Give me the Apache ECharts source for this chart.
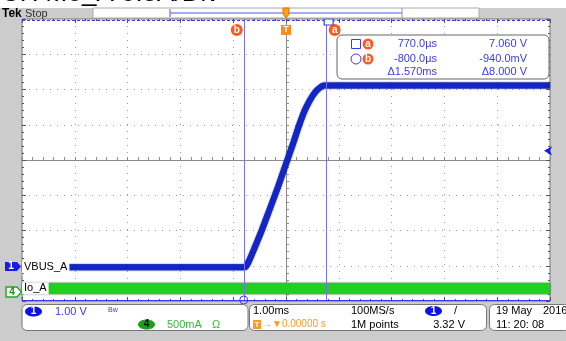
<!DOCTYPE html>
<html><head><meta charset="utf-8">
<script src="https://cdn.jsdelivr.net/npm/echarts@6/dist/echarts.min.js"></script>
<style>
html,body{margin:0;padding:0;}
body{background:linear-gradient(#ffffff 0,#ffffff 8px,#cccccc 8px,#cccccc 100%);width:566px;height:341px;overflow:hidden}
#c{width:566px;height:341px}
</style>
</head><body><div id="c"></div>
<script>
// ---- data ----
const vbusTimes = [-5, -0.78, -0.70, -0.60, -0.45, -0.30, -0.15, 0.0, 0.15, 0.25, 0.35, 0.45, 0.55, 0.65, 0.72, 5];
const vbusVolts = [0.02, 0.02, 0.20, 0.55, 1.10, 1.70, 2.30, 2.95, 3.60, 4.05, 4.45, 4.75, 4.98, 5.12, 5.17, 5.17];
const ioTimes = [-5, 5];
const ioAmps = [0.05, 0.05];
const cursorNames = ['a', 'b'];
const cursorTimes = [0.77, -0.80];
const cursorVolts = [7.06, -0.94];
const readTimes = ['770.0µs', '-800.0µs', 'Δ1.570ms'];
const readVolts = ['7.060 V', '-940.0mV', 'Δ8.000 V'];
const triggerLevel = 3.32;
const voltRange = [-0.94, 7.06];
const ampRange = [-0.128, 3.872];
const timeRange = [-5, 5];
const divRange = [-4, 4];

const F = '"Liberation Sans", Arial, sans-serif';
const ORANGE = '#ff5a1e';
const TB = '#3a3aee';
const GRID = '#8c8c8c';

const chart = echarts.init(document.getElementById('c'), null, {renderer: 'canvas'});

function edgeAxis(pos, isX) {
  return {
    type: 'value', position: pos, min: isX ? timeRange[0] : divRange[0], max: isX ? timeRange[1] : divRange[1], interval: 1,
    axisLine: {show: false, onZero: false},
    axisTick: {show: true, inside: true, length: 4, lineStyle: {color: '#555'}},
    minorTick: {show: true, splitNumber: 5, length: 2, lineStyle: {color: '#555'}},
    splitLine: {show: false}, axisLabel: {show: false}
  };
}

const vbusData = vbusTimes.map((t, i) => [t, vbusVolts[i]]);
const ioData = ioTimes.map((t, i) => [t, ioAmps[i]]);

const option = {
  animation: false,
  grid: {left: 22, top: 19, width: 528, height: 282, show: true, backgroundColor: '#ffffff', borderColor: '#777', borderWidth: 1},
  xAxis: [
    {type: 'value', min: timeRange[0], max: timeRange[1], interval: 1,
     axisLine: {show: true, onZero: true, onZeroAxisIndex: 0, lineStyle: {color: GRID, width: 1}},
     axisTick: {show: true, inside: true, length: 3, lineStyle: {color: GRID}},
     minorTick: {show: true, splitNumber: 5, length: 3, lineStyle: {color: GRID}},
     splitLine: {show: true, lineStyle: {color: '#999', type: [1, 6], width: 1}},
     axisLabel: {show: false}},
    edgeAxis('bottom', true),
    edgeAxis('top', true)
  ],
  yAxis: [
    {type: 'value', min: divRange[0], max: divRange[1], interval: 1,
     axisLine: {show: true, onZero: true, onZeroAxisIndex: 0, lineStyle: {color: GRID, width: 1}},
     axisTick: {show: true, inside: true, length: 3, lineStyle: {color: GRID}},
     minorTick: {show: true, splitNumber: 5, length: 3, lineStyle: {color: GRID}},
     splitLine: {show: true, lineStyle: {color: '#999', type: [1, 6], width: 1}},
     axisLabel: {show: false}},
    edgeAxis('left', false),
    edgeAxis('right', false),
    {type: 'value', min: voltRange[0], max: voltRange[1], show: false, axisLine: {onZero: false}},
    {type: 'value', min: ampRange[0], max: ampRange[1], show: false, axisLine: {onZero: false}}
  ],
  series: [
    {
      name: 'Io_A', type: 'line', xAxisIndex: 0, yAxisIndex: 4, data: ioData, symbol: 'none', z: 3,
      lineStyle: {color: '#1fd01f', width: 11, shadowColor: '#0b6e0b', shadowBlur: 2},
      markPoint: {
        symbol: 'rect', symbolSize: 0, silent: true,
        data: [{coord: [timeRange[0], ioAmps[0]], label: {show: true, position: 'right', distance: 0, formatter: 'Io_A', color: '#000', fontFamily: F, fontSize: 11, backgroundColor: '#fff', padding: [1, 2, 0, 2]}}]
      }
    },
    {
      name: 'VBUS_A', type: 'line', xAxisIndex: 0, yAxisIndex: 3, data: vbusData, symbol: 'none', smooth: 0.25, z: 4,
      lineStyle: {color: '#1226c6', width: 6, shadowColor: '#0a0a70', shadowBlur: 1.5},
      markLine: {
        silent: true, symbol: 'none', label: {show: false}, animation: false,
        data: [
          {xAxis: cursorTimes[0], lineStyle: {color: '#7272ff', width: 1, type: 'solid'}},
          {xAxis: cursorTimes[1], lineStyle: {color: '#7272ff', width: 1, type: 'solid'}},
          {yAxis: cursorVolts[0] - 0.03, lineStyle: {color: '#3a3aee', width: 1, type: [3, 2]}},
          {yAxis: cursorVolts[1] + 0.03, lineStyle: {color: '#3a3aee', width: 1, type: 'solid'}}
        ]
      },
      markPoint: {
        silent: true,
        data: [
          {coord: [cursorTimes[1], 6.75], symbol: 'circle', symbolSize: 12, symbolOffset: [-7, 0], itemStyle: {color: ORANGE},
           label: {show: true, formatter: cursorNames[1], color: '#fff', fontWeight: 'bold', fontSize: 10, fontFamily: F}},
          {coord: [cursorTimes[0], 6.75], symbol: 'circle', symbolSize: 12, symbolOffset: [8, 0], itemStyle: {color: ORANGE},
           label: {show: true, formatter: cursorNames[0], color: '#fff', fontWeight: 'bold', fontSize: 10, fontFamily: F}},
          {coord: [0, 6.75], symbol: 'rect', symbolSize: [10, 10], itemStyle: {color: '#ff8c1a'},
           label: {show: true, formatter: 'T', color: '#fff', fontWeight: 'bold', fontSize: 9, fontFamily: F}},
          {coord: [cursorTimes[0], cursorVolts[0]], symbol: 'rect', symbolSize: [9, 6], symbolOffset: [2, 3], itemStyle: {color: '#fff', borderColor: '#3a3aee', borderWidth: 1}, label: {show: false}},
          {coord: [cursorTimes[1], cursorVolts[1]], symbol: 'circle', symbolSize: 8, symbolOffset: [0, -1], itemStyle: {color: 'rgba(0,0,0,0)', borderColor: '#3a3aee', borderWidth: 1}, label: {show: false}},
          {coord: [timeRange[1], triggerLevel], symbol: 'arrow', symbolSize: [7, 8], symbolRotate: 90, symbolOffset: [-6, 0], itemStyle: {color: '#1a1aee'}, label: {show: false}},
          {coord: [timeRange[0], vbusVolts[0]], symbol: 'rect', symbolSize: 0,
           label: {show: true, position: 'right', distance: 0, formatter: 'VBUS_A', color: '#000', fontFamily: F, fontSize: 11, backgroundColor: '#fff', padding: [1, 2, 0, 2]}}
        ]
      }
    }
  ],
  graphic: []
};
chart.setOption(option);

// decorations (screen furniture)
const g = [];
function txt(x, y, s, o) {
  g.push(Object.assign({type: 'text', x: x, y: y, z: 100, style: Object.assign({text: s, fill: '#000', font: '11px ' + F, textVerticalAlign: 'middle'}, o || {})}));
}
function rect(x, y, w, h, st, r) {
  g.push({type: 'rect', z: 90, shape: {x: x, y: y, width: w, height: h, r: r || 0}, style: st});
}
// title (cut off at top)
txt(1, -6, 'CH4:Io_A 0.5A/Div', {font: '26px ' + F, fill: '#000'});
// top bar
txt(2, 14, 'Tek', {font: 'bold 12px ' + F});
txt(25, 14, 'Stop', {font: '11px ' + F, fill: '#333'});
rect(93, 8, 386, 10, {fill: '#fff', stroke: '#aaa', lineWidth: 1});
g.push({type: 'line', z: 95, shape: {x1: 170, y1: 13, x2: 402, y2: 13}, style: {stroke: '#5555ee', lineWidth: 1}});
g.push({type: 'line', z: 95, shape: {x1: 170, y1: 9, x2: 170, y2: 17}, style: {stroke: '#5555ee', lineWidth: 1}});
g.push({type: 'line', z: 95, shape: {x1: 402, y1: 8, x2: 402, y2: 18}, style: {stroke: '#999', lineWidth: 1}});
g.push({type: 'polygon', z: 96, shape: {points: [[283, 8], [289, 8], [289, 14], [286, 18], [283, 14]]}, style: {fill: '#ffa21a', stroke: '#e07000'}});
// readout box
rect(337, 35, 212, 44, {fill: '#fff', stroke: '#666', lineWidth: 1}, 5);
rect(351.5, 39.5, 9, 9, {fill: 'none', stroke: TB, lineWidth: 1});
g.push({type: 'circle', z: 95, shape: {cx: 356, cy: 59, r: 5}, style: {fill: 'none', stroke: TB, lineWidth: 1}});
[[368, 44, 'a'], [368, 59, 'b']].forEach(p => {
  g.push({type: 'circle', z: 95, shape: {cx: p[0], cy: p[1], r: 5.5}, style: {fill: ORANGE}});
  txt(p[0], p[1], p[2], {fill: '#fff', font: 'bold 10px ' + F, textAlign: 'center'});
});
[44, 59, 72].forEach((y, i) => {
  txt(437, y, readTimes[i], {fill: TB, textAlign: 'right'});
  txt(527, y, readVolts[i], {fill: TB, textAlign: 'right'});
});
// left channel markers
g.push({type: 'polygon', z: 95, shape: {points: [[5, 262], [17, 262], [21, 266.5], [17, 271], [5, 271]]}, style: {fill: '#1a1aee'}});
txt(11, 266.5, '1', {fill: '#fff', font: 'bold 10px ' + F, textAlign: 'center'});
g.push({type: 'polygon', z: 95, shape: {points: [[6, 287], [17, 287], [21.5, 292], [17, 297], [6, 297]]}, style: {fill: '#fff', stroke: '#22aa22', lineWidth: 1.5}});
txt(12, 292, '4', {fill: '#119911', font: 'bold 10px ' + F, textAlign: 'center'});
// bottom boxes
rect(22, 304.5, 226, 26, {fill: '#fff', stroke: '#777', lineWidth: 1}, 5);
rect(249.5, 304.5, 237, 26, {fill: '#fff', stroke: '#777', lineWidth: 1}, 5);
rect(489.5, 304.5, 80, 26, {fill: '#fff', stroke: '#777', lineWidth: 1}, 5);
g.push({type: 'ellipse', z: 95, shape: {cx: 33.5, cy: 311.5, rx: 8.5, ry: 5}, style: {fill: '#0a14e6'}});
txt(33.5, 311.5, '1', {fill: '#fff', font: 'bold 10px ' + F, textAlign: 'center'});
txt(55, 311.5, '1.00 V', {fill: TB});
txt(108, 310, 'Bw', {fill: TB, font: '7px ' + F});
g.push({type: 'ellipse', z: 95, shape: {cx: 146.5, cy: 324.5, rx: 8.5, ry: 5}, style: {fill: '#1aa01a'}});
txt(146.5, 324.5, '4', {fill: '#000', font: 'bold 10px ' + F, textAlign: 'center'});
txt(167, 324.5, '500mA', {fill: '#33bb33'});
txt(212, 324.5, 'Ω', {fill: '#33bb33'});
txt(253, 311, '1.00ms', {fill: '#000'});
rect(253, 320, 8, 9, {fill: '#ff9a20'});
txt(257, 324.8, 'T', {fill: '#fff', font: 'bold 8px ' + F, textAlign: 'center'});
txt(262, 324.5, '→▼0.00000 s', {fill: '#ff9a20', font: '10px ' + F});
txt(351, 311, '100MS/s', {fill: '#000'});
txt(351, 324.5, '1M points', {fill: '#000'});
g.push({type: 'ellipse', z: 95, shape: {cx: 433.5, cy: 311, rx: 8.5, ry: 5}, style: {fill: '#0a14e6'}});
txt(433.5, 311, '1', {fill: '#fff', font: 'bold 10px ' + F, textAlign: 'center'});
txt(454, 311, '/', {fill: '#000'});
txt(465, 324.5, '3.32 V', {fill: '#000', textAlign: 'right'});
txt(496, 311, '19 May', {fill: '#000'});
txt(543, 311, '2016', {fill: '#000'});
txt(496, 324.5, '11: 20: 08', {fill: '#000'});
chart.setOption({graphic: g});
</script>
</body></html>
